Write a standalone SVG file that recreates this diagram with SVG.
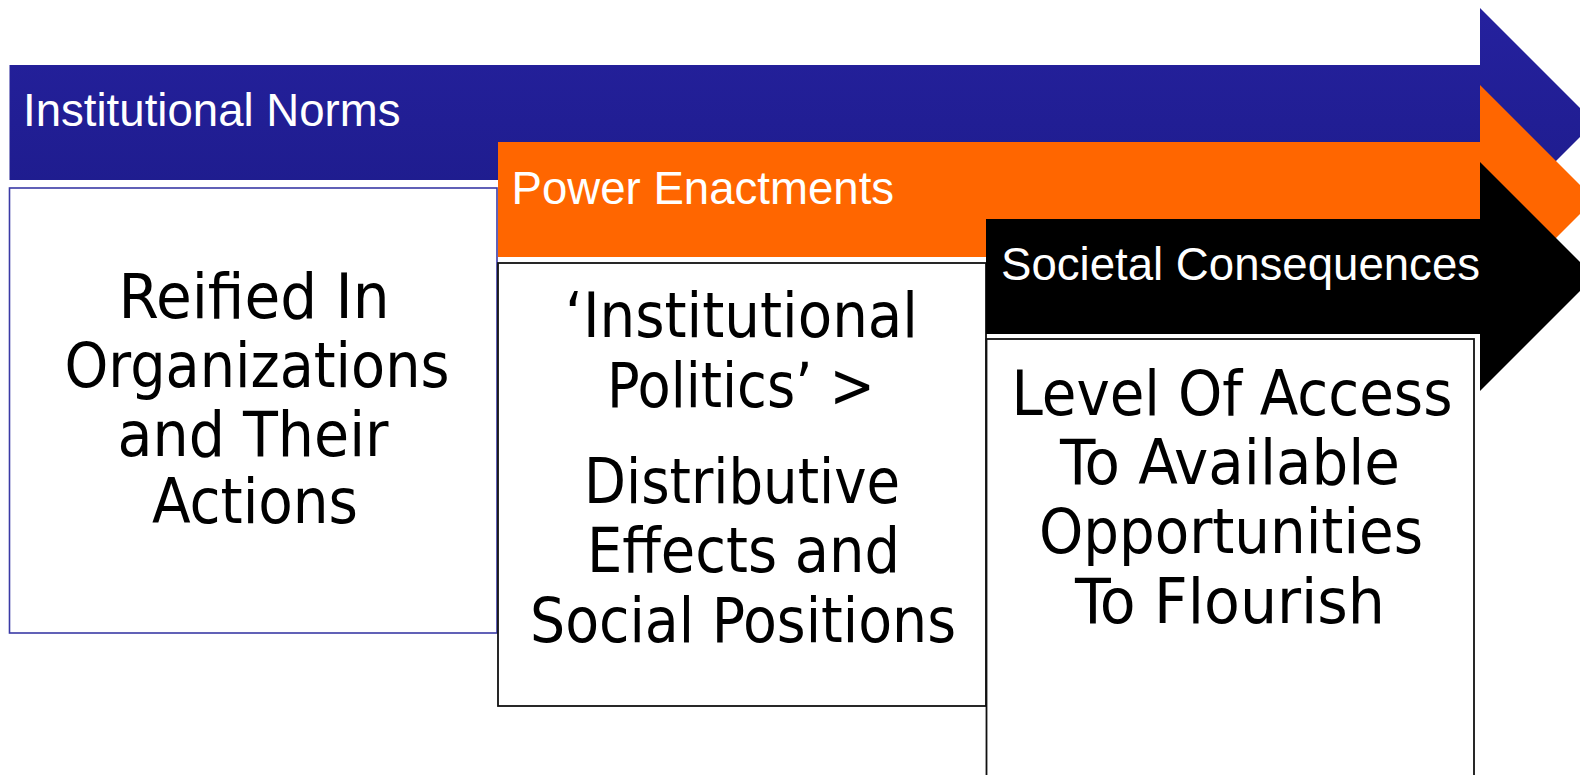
<svg xmlns="http://www.w3.org/2000/svg" width="1580" height="775" viewBox="0 0 1580 775">
<defs>
<linearGradient id="blueGrad" x1="0" y1="0" x2="0" y2="1">
<stop offset="0" stop-color="#25219E"/>
<stop offset="1" stop-color="#1D1B8A"/>
</linearGradient>
</defs>
<style>
.hdr{font-family:"Liberation Sans",Arial,sans-serif;font-size:45.6px;fill:#ffffff}
.body{font-family:"DejaVu Sans Condensed","DejaVu Sans",Tahoma,sans-serif;font-size:63px;fill:#000000;text-anchor:middle}
.box{fill:#ffffff;stroke:#111111;stroke-width:1.8}
.box1{fill:#ffffff;stroke:#3a3aa6;stroke-width:1.6}
</style>
<rect x="0" y="0" width="1580" height="775" fill="#ffffff"/>
<g id="arrow-institutional-norms">
<polygon points="9.5,65 1480,65 1480,8 1594.5,122.5 1480,237 1480,180 9.5,180" fill="url(#blueGrad)"/>
<text class="hdr" x="23" y="126">Institutional Norms</text>
</g>
<g id="box-reified">
<rect class="box1" x="9.5" y="188" width="487.5" height="445"/>
<text class="body" x="254" y="318" textLength="271" lengthAdjust="spacingAndGlyphs">Reified In</text>
<text class="body" x="257" y="387" textLength="385" lengthAdjust="spacingAndGlyphs">Organizations</text>
<text class="body" x="253" y="456" textLength="271" lengthAdjust="spacingAndGlyphs">and Their</text>
<text class="body" x="255" y="523" textLength="206" lengthAdjust="spacingAndGlyphs">Actions</text>
</g>
<g id="arrow-power-enactments">
<polygon points="498,142 1480,142 1480,85 1594.5,199.5 1480,314 1480,257 498,257" fill="#FF6600"/>
<text class="hdr" x="511.5" y="204">Power Enactments</text>
</g>
<g id="box-institutional-politics">
<rect class="box" x="498" y="263" width="488" height="443"/>
<text class="body" x="741.5" y="337" textLength="353" lengthAdjust="spacingAndGlyphs">‘Institutional</text>
<text class="body" x="741" y="406.5" textLength="268" lengthAdjust="spacingAndGlyphs">Politics’ &gt;</text>
<text class="body" x="742" y="503" textLength="316" lengthAdjust="spacingAndGlyphs">Distributive</text>
<text class="body" x="743.5" y="572" textLength="313" lengthAdjust="spacingAndGlyphs">Effects and</text>
<text class="body" x="743" y="641.5" textLength="426" lengthAdjust="spacingAndGlyphs">Social Positions</text>
</g>
<g id="arrow-societal-consequences">
<polygon points="986,219 1480,219 1480,162 1594.5,276.5 1480,391 1480,334 986,334" fill="#000000"/>
<text class="hdr" x="1001" y="280">Societal Consequences</text>
</g>
<g id="box-level-of-access">
<rect class="box" x="986.5" y="339" width="487.5" height="450"/>
<text class="body" x="1232" y="415" textLength="441" lengthAdjust="spacingAndGlyphs">Level Of Access</text>
<text class="body" x="1230" y="484" textLength="340" lengthAdjust="spacingAndGlyphs">To Available</text>
<text class="body" x="1231" y="553" textLength="384" lengthAdjust="spacingAndGlyphs">Opportunities</text>
<text class="body" x="1230" y="623" textLength="310" lengthAdjust="spacingAndGlyphs">To Flourish</text>
</g>
<g id="connectors"/>
</svg>
